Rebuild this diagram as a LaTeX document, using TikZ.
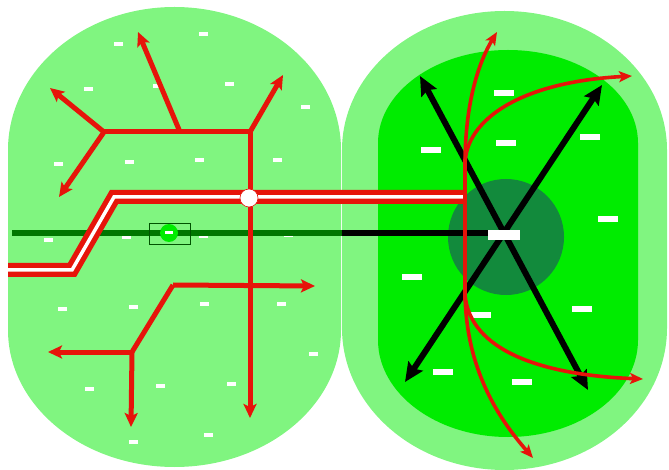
\documentclass[tikz,border=0pt]{standalone}
\usetikzlibrary{arrows.meta}
\definecolor{lightg}{RGB}{128,245,128}
\definecolor{brightg}{RGB}{0,236,0}
\definecolor{darkg}{RGB}{18,138,60}
\definecolor{lineg}{RGB}{0,118,0}
\definecolor{redl}{RGB}{230,20,10}
\tikzset{
  redarrow/.style={draw=redl, line width=5pt, -{Stealth[length=14pt,width=13pt,inset=3pt]}},
  redline/.style={draw=redl, line width=5pt},
  redcurve/.style={draw=redl, line width=3.6pt, -{Stealth[length=13pt,width=11pt,inset=3pt]}},
  blackarrow/.style={draw=black, line width=6pt, {Stealth[length=19pt,width=17pt,inset=3pt]}-{Stealth[length=19pt,width=17pt,inset=3pt]}},
}
\begin{document}
\begin{tikzpicture}[x=1pt,y=-1pt]
\useasboundingbox (0,0) rectangle (669,470);
% left region
\fill[lightg] (8,150) arc[start angle=180,end angle=0,x radius=166.5pt,y radius=143pt]
  -- (341,330) arc[start angle=0,end angle=-180,x radius=166.5pt,y radius=137pt] -- cycle;
% right region outer
\fill[lightg] (342,150) arc[start angle=180,end angle=0,x radius=162.5pt,y radius=139pt]
  -- (667,328) arc[start angle=0,end angle=-180,x radius=162.5pt,y radius=142pt] -- cycle;
% right region inner
\fill[brightg] (378,143) arc[start angle=180,end angle=0,x radius=130pt,y radius=93pt]
  -- (638,340) arc[start angle=0,end angle=-180,x radius=130pt,y radius=97pt] -- cycle;
% dark circle
\fill[darkg] (506,237) circle[radius=58pt];
% small dashes (left)
\foreach \x/\y in {118/44,203/34,88/89,157/86,229/84,305/107,58/164,129/162,199/160,277/160,
  48/240,126/237,203/236,288/235,62/309,133/307,204/304,281/304,313/354,89/389,160/386,231/384,133/442,208/435}
  \fill[white] (\x-4.5,\y-2) rectangle (\x+4.5,\y+2);
% large dashes (right)
\foreach \x/\y in {504/93,506/143,431/150,590/137,608/219,412/277,481/315,582/309,443/372,522/382}
  \fill[white] (\x-10,\y-3.2) rectangle (\x+10,\y+3.2);
% coordinates
\coordinate (gl) at (12,233);
\coordinate (mid) at (342,233);
\coordinate (hub) at (488,233);
\coordinate (xa1) at (420,76);
\coordinate (xa2) at (588,390);
\coordinate (xb1) at (602,85);
\coordinate (xb2) at (405,382);
% lines
\draw[lineg, line width=6pt] (gl) -- (mid);
\draw[black, line width=6pt] (mid) -- (hub);
\draw[blackarrow] (xa1) -- (xa2);
\draw[blackarrow] (xb1) -- (xb2);
\node[fill=white, minimum width=32pt, minimum height=10pt, inner sep=0pt] (st) at (504,235) {};
% red double line
\coordinate (d0) at (8,270);
\coordinate (d1) at (72,270);
\coordinate (d2) at (114,197);
\coordinate (d3) at (466,197);
\draw[redl, line width=14pt, line join=miter] (d0) -- (d1) -- (d2) -- (d3);
\draw[white, line width=3.5pt, line join=miter] (d0) -- (d1) -- (d2) -- (d3);
% red curves right
\coordinate (v0) at (465,300);
\coordinate (v1) at (465,165);
\coordinate (t1) at (497,32);
\coordinate (t2) at (632,76);
\coordinate (t3) at (533,458);
\coordinate (t4) at (643,379);
\draw[redcurve] (v0) -- (v1) .. controls (465,100) and (480,60) .. (t1);
\draw[redcurve] (v1) .. controls (465,120) and (520,82) .. (t2);
\draw[redcurve] (465,290) .. controls (465,370) and (500,420) .. (t3);
\draw[redcurve] (465,295) .. controls (470,350) and (540,375) .. (t4);
% top tree
\coordinate (j1) at (104,132);
\coordinate (j2) at (180,132);
\coordinate (j3) at (250,132);
\coordinate (a1) at (283,75);
\coordinate (a2) at (250,418);
\coordinate (a3) at (138,32);
\coordinate (a4) at (50,88);
\coordinate (a5) at (59,197);
\draw[redline, line cap=round] (j1) -- (j3);
\draw[redarrow] (j3) -- (a1);
\draw[redarrow] (j3) -- (a2);
\draw[redarrow] (j2) -- (a3);
\draw[redarrow] (j1) -- (a4);
\draw[redarrow] (j1) -- (a5);
% bottom tree
\coordinate (b1) at (173,285);
\coordinate (b2) at (132,352);
\coordinate (c1) at (315,286);
\coordinate (c2) at (48,352);
\coordinate (c3) at (131,427);
\draw[redarrow] (b1) -- (c1);
\draw[redline] (b1) -- (b2);
\draw[redarrow] (b2) -- (c2);
\draw[redarrow] (b2) -- (c3);
% white circle junction
\node[circle, fill=white, draw=redl, line width=0.6pt, minimum size=18pt, inner sep=0pt] (wc) at (249,198) {};
% small station node
\node[draw=lineg!70!black, line width=0.7pt, minimum width=41pt, minimum height=21pt, inner sep=0pt] (box) at (170,233.5) {};
\node[circle, fill=brightg, minimum size=18pt, inner sep=0pt] (gc) at (169,233) {};
\fill[white] (165,231.5) rectangle (173,234.5);
\end{tikzpicture}
\end{document}
